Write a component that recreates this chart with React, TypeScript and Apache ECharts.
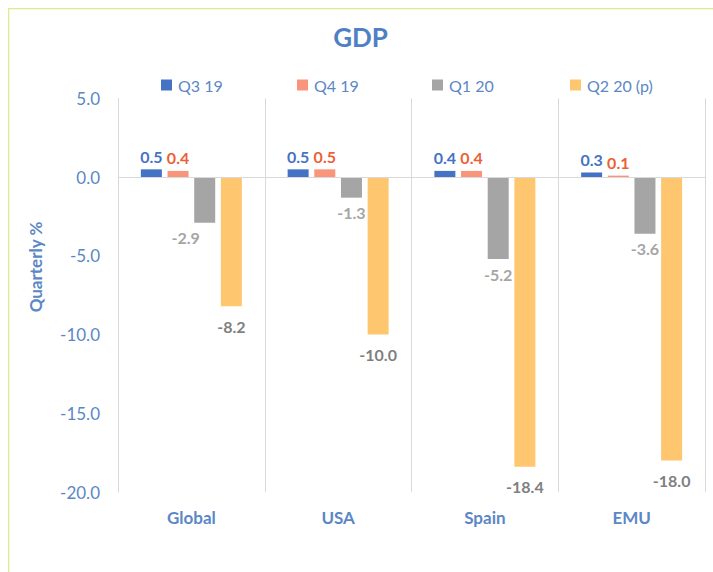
import React, { useEffect, useRef } from "react";
import * as echarts from "echarts";

const categories = ["Global", "USA", "Spain", "EMU"];
const seriesNames = ["Q3 19", "Q4 19", "Q1 20", "Q2 20 (p)"];
const q319 = [0.5, 0.5, 0.4, 0.3];
const q419 = [0.4, 0.5, 0.4, 0.1];
const q120 = [-2.9, -1.3, -5.2, -3.6];
const q220 = [-8.2, -10.0, -18.4, -18.0];
const yTicks = { min: -20, max: 5, interval: 5 };

const FONT = "Lato, 'Noto Sans', sans-serif";
const BLUE_TEXT = "#5B87C6";

export default function App() {
  const ref = useRef<HTMLDivElement>(null);
  useEffect(() => {
    if (!ref.current) return;
    const chart = echarts.init(ref.current, undefined, { renderer: "svg" });
    const barColors = ["#4472C4", "#F8957A", "#A5A5A5", "#FFC670"];
    const labelStyles = [
      { color: "#4472C4", fontWeight: "bold", distance: 5 },
      { color: "#ED5F35", fontWeight: "bold", distance: 5 },
      { color: "#A5A5A5", fontWeight: "bold", distance: 7 },
      { color: "#7F7F7F", fontWeight: "bold", distance: 12 },
    ];
    const data = [q319, q419, q120, q220];
    const legendLefts = [153, 289, 424, 562];
    const series: any[] = data.map((vals, i) => ({
      name: seriesNames[i],
      type: "bar",
      barWidth: 21,
      barGap: "27%",
      itemStyle: { color: barColors[i] },
      data: vals.map((v, j) =>
        i === 2 && j === 0 ? { value: v, label: { offset: [-19, 0] } } : v
      ),
      label: {
        show: true,
        position: "outside",
        formatter: (p: any) => Number(p.value).toFixed(1),
        fontFamily: FONT,
        fontSize: 16,
        color: labelStyles[i].color,
        fontWeight: labelStyles[i].fontWeight,
        distance: labelStyles[i].distance,
      },
    }));
    series[0].markLine = {
      silent: true,
      symbol: "none",
      label: { show: false },
      lineStyle: { color: "#D9D9D9", type: "solid", width: 1 },
      data: [{ yAxis: 0 }],
    };
    chart.setOption({
      animation: false,
      backgroundColor: "#fff",
      title: {
        text: "GDP",
        left: "center",
        top: 11,
        textStyle: { fontFamily: FONT, fontSize: 26, fontWeight: "bold", color: "#4F7FC4" },
      },
      legend: legendLefts.map((l, i) => ({
        data: [seriesNames[i]],
        left: l,
        top: 69,
        padding: 0,
        icon: "rect",
        itemWidth: 11,
        itemHeight: 11,
        itemGap: 5,
        textStyle: { fontFamily: FONT, fontSize: 16, color: BLUE_TEXT, padding: [0, 0, 0, 1] },
      })),
      grid: { left: 110, right: 8, top: 90.5, bottom: 80, containLabel: false },
      xAxis: {
        type: "category",
        data: categories,
        axisLine: { show: false },
        axisTick: { show: false },
        splitLine: { show: true, lineStyle: { color: "#D9D9D9" } },
        axisLabel: {
          margin: 17,
          fontFamily: FONT,
          fontSize: 17,
          fontWeight: "bold",
          color: BLUE_TEXT,
        },
      },
      yAxis: {
        type: "value",
        min: yTicks.min,
        max: yTicks.max,
        interval: yTicks.interval,
        axisLine: { show: true, lineStyle: { color: "#D9D9D9" } },
        axisTick: { show: false },
        splitLine: { show: false },
        axisLabel: {
          margin: 18,
          fontFamily: FONT,
          fontSize: 17,
          color: BLUE_TEXT,
          formatter: (v: number) => v.toFixed(1),
        },
      },
      graphic: [
        {
          type: "rect",
          shape: { x: 0.5, y: 0.5, width: 800, height: 800 },
          style: { fill: "none", stroke: "#E2E88F", lineWidth: 1.5 },
          silent: true,
        },
        {
          type: "text",
          x: 27,
          y: 259,
          rotation: Math.PI / 2,
          style: {
            text: "Quarterly %",
            fontFamily: FONT,
            fontSize: 17,
            fontWeight: "bold",
            fill: BLUE_TEXT,
            textAlign: "center",
            textVerticalAlign: "middle",
          },
        },
      ],
      series,
    });
    return () => chart.dispose();
  }, []);
  return (
    <div
      ref={ref}
      style={{ position: "fixed", left: 8, top: 8, width: 705, height: 564 }}
    />
  );
}
